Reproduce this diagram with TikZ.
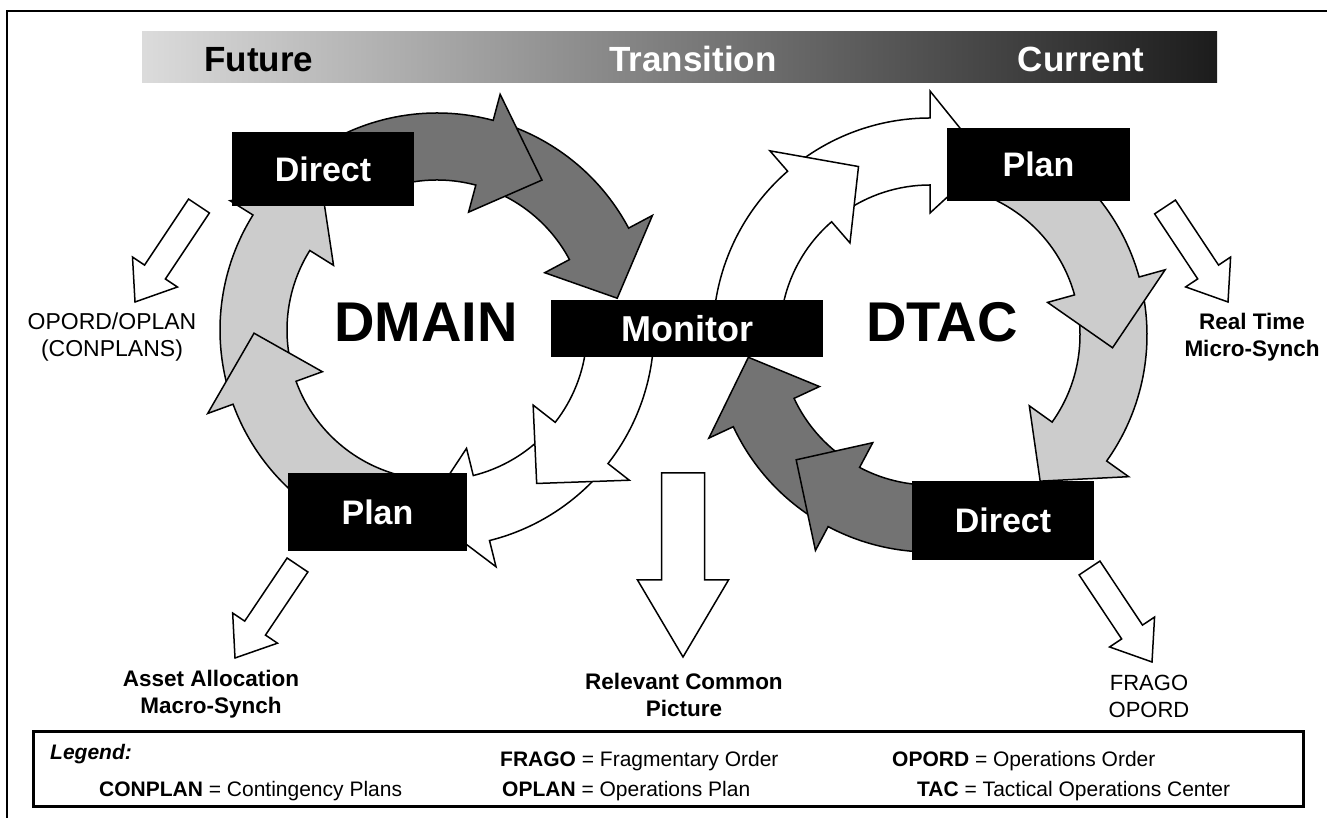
\documentclass[tikz,border=0pt]{standalone}
\usepackage{fontspec}
\setmainfont{Liberation Sans}
\usepackage{xcolor}
\usepackage{tikz}
\usetikzlibrary{calc}
\definecolor{mydark}{gray}{0.45}
\definecolor{mylight}{gray}{0.80}

% curved arrow on a ring: fill, tail angle, head base angle, tip angle
\newcommand{\ringarrow}[4]{%
  \filldraw[ringline, fill=#1] (#2:217pt) arc[start angle=#2, end angle=#3, radius=217pt]
    -- (#3:244pt) -- (#4:183pt) -- (#3:122pt) -- (#3:150pt)
    arc[start angle=#3, end angle=#2, radius=150pt] -- cycle;}

% straight hollow arrow: tail, tip, shaft half width, head half width, head length
\newcommand{\outarrow}[5]{%
  \coordinate (hb) at ($(#2)!#5!(#1)$);
  \filldraw[hollow] ($(#1)!#3!90:(#2)$) -- ($(hb)!#3!90:(#2)$) -- ($(hb)!#4!90:(#2)$) -- (#2)
    -- ($(hb)!#4!-90:(#2)$) -- ($(hb)!#3!-90:(#2)$) -- ($(#1)!#3!-90:(#2)$) -- cycle;}

\begin{document}
\begin{tikzpicture}[x=1pt, y=1pt,
    ringline/.style={draw=black, line width=1.5pt},
    hollow/.style={draw=black, fill=white, line width=1.5pt},
    stagebox/.style={fill=black, text=white, inner sep=2pt, font=\fontsize{34}{40}\selectfont\bfseries},
    phase/.style={anchor=base, inner sep=0pt, font=\fontsize{35}{40}\selectfont\bfseries},
    lbl/.style={anchor=north, align=center, inner sep=0pt, font=\fontsize{23}{27}\selectfont},
    boldlbl/.style={lbl, font=\fontsize{22.5}{27}\selectfont\bfseries},
    legtxt/.style={anchor=base west, inner sep=0pt, font=\fontsize{21}{25}\selectfont}]
    \useasboundingbox (0,0) rectangle (1327,818);

    % basics
    \draw[line width=2pt] (7,0) -- (7,807) -- (1327,807);
    \shade[left color=black!14, right color=black!89] (142,735) rectangle (1217,786);
    \node[phase] (future) at (259,746) {Future};
    \node[phase, text=white] (transition) at (693,746) {Transition};
    \node[phase, text=white] (current) at (1081,746) {Current};

    \coordinate (lc) at (437,488);
    \coordinate (rc) at (930,483);

    % dmain ring
    \begin{scope}[shift={(lc)}]
        \ringarrow{mydark}{70}{28}{10}
        \ringarrow{mydark}{115}{75}{55}
        \ringarrow{white}{-43}{-76}{-94}
        \ringarrow{white}{-5}{-38}{-57}
        \ringarrow{mylight}{195}{148}{129}
        \ringarrow{mylight}{255}{200}{181}
    \end{scope}

    % dtac ring
    \begin{scope}[shift={(rc)}]
        \ringarrow{white}{126}{90}{72}
        \ringarrow{white}{185}{131}{113}
        \ringarrow{mylight}{10.5}{-35.5}{-53}
        \ringarrow{mylight}{65}{15.5}{-4}
        \ringarrow{mydark}{237}{205}{187}
        \ringarrow{mydark}{275}{242}{223}
    \end{scope}

    \node[font=\fontsize{56}{60}\selectfont\bfseries, anchor=base] (dmain) at (426,476) {DMAIN};
    \node[font=\fontsize{56}{60}\selectfont\bfseries, anchor=base] (dtac) at (942,476) {DTAC};

    % stages
    \node[stagebox, minimum width=182pt, minimum height=74pt] (ldirect) at (323,649) {Direct};
    \node[stagebox, minimum width=179pt, minimum height=78pt] (lplan) at (377.5,306) {Plan};
    \node[stagebox, minimum width=272pt, minimum height=57pt, font=\fontsize{36}{40}\selectfont\bfseries] (monitor) at (687,489.5) {Monitor};
    \node[stagebox, minimum width=183pt, minimum height=73pt] (rplan) at (1038.5,653.5) {Plan};
    \node[stagebox, minimum width=182pt, minimum height=79pt] (rdirect) at (1003,297.5) {Direct};

    % outputs
    \node[lbl] (opordlbl) at (112,505) {OPORD/OPLAN\\(CONPLANS)};
    \node[boldlbl] (assetlbl) at (211,148) {Asset Allocation\\Macro-Synch};
    \node[boldlbl] (piclbl) at (684,145) {Relevant Common\\Picture};
    \node[boldlbl] (synchlbl) at (1252,505) {Real Time\\Micro-Synch};
    \node[lbl, font=\fontsize{22}{27}\selectfont] (fragolbl) at (1149,143) {FRAGO\\OPORD};

    \coordinate (opordtail) at (199,612);  \coordinate (opordtip) at (135,516);
    \coordinate (assettail) at (297.5,253); \coordinate (assettip) at (235,160);
    \coordinate (pictail) at (683,345);    \coordinate (pictip) at (683,161);
    \coordinate (synchtail) at (1165,611); \coordinate (synchtip) at (1228,516);
    \coordinate (fragotail) at (1089.5,250); \coordinate (fragotip) at (1152,156);
    \outarrow{opordtail}{opordtip}{12.5pt}{27pt}{36pt}
    \outarrow{assettail}{assettip}{12.5pt}{27pt}{36pt}
    \outarrow{pictail}{pictip}{21.5pt}{45.5pt}{77pt}
    \outarrow{synchtail}{synchtip}{12.5pt}{27pt}{36pt}
    \outarrow{fragotail}{fragotip}{12.5pt}{27pt}{36pt}

    % legend
    \draw[line width=3pt] (33,11) rectangle (1303,86);
    \node[legtxt] (legend) at (50,58) {\textbf{\textit{Legend:}}};
    \node[legtxt] (frago) at (500,51) {\textbf{FRAGO} = Fragmentary Order};
    \node[legtxt] (opord) at (892,51) {\textbf{OPORD} = Operations Order};
    \node[legtxt] (conplan) at (99,21) {\textbf{CONPLAN} = Contingency Plans};
    \node[legtxt] (oplan) at (502,21) {\textbf{OPLAN} = Operations Plan};
    \node[legtxt] (tac) at (917,21) {\textbf{TAC} = Tactical Operations Center};
\end{tikzpicture}
\end{document}
